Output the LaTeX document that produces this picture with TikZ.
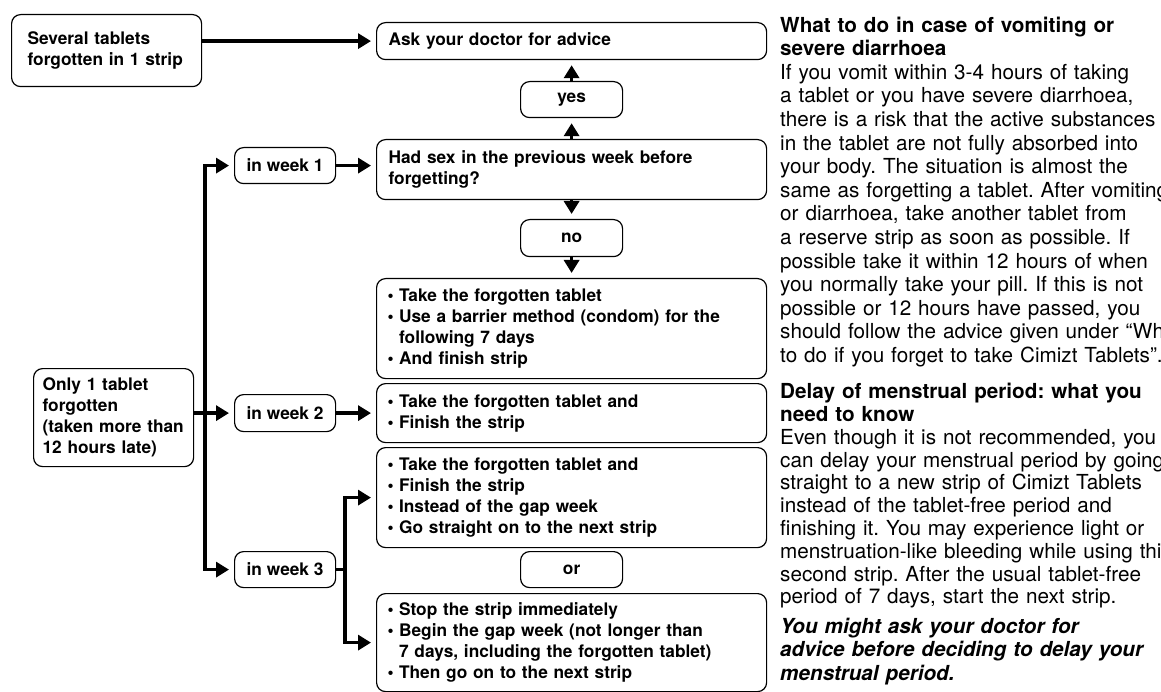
\documentclass[tikz,border=0pt]{standalone}
\usepackage{fontspec}
\setmainfont{TeX Gyre Heros}
\usetikzlibrary{arrows.meta}
\frenchspacing

\newcommand\boxfont{\fontsize{17.3}{21}\selectfont\bfseries}
\newcommand\sidefont{\fontsize{20.7}{23.6}\selectfont}
\newcommand\sidefontb{\fontsize{20.7}{22.8}\selectfont}
\newcommand\itm{\makebox[11.5pt][l]{•}}
\newcommand\itmgap{\hspace*{11.5pt}}

\begin{document}
\begin{tikzpicture}[x=1pt,y=-1pt,
>={Triangle[length=13pt,width=15pt]},
panel/.style={draw,rounded corners=9pt,line width=1.2pt,anchor=north west,
  align=left,font=\boxfont,inner xsep=12pt,inner ysep=0pt,text width=366pt},
tag/.style={draw,rounded corners=9pt,line width=1.2pt,anchor=north west,
  font=\boxfont,minimum width=101pt,minimum height=36pt,inner sep=0pt},
side/.style={anchor=north west,inner sep=0pt,text width=440pt,align=left},
flow/.style={line width=3.5pt,shorten >=5pt}]

\useasboundingbox (0,0) rectangle (1161,692);

% left column
\node[panel,inner xsep=16pt,text width=158pt,minimum height=72pt] (several) at (11,14)
  {Several tablets\\forgotten in 1 strip};
\node[panel,inner xsep=9pt,text width=142pt,minimum height=98pt] (only) at (33,368)
  {Only 1 tablet\\forgotten\\(taken more than\\12 hours late)};
\node[tag] (w1) at (234,147) {in week 1};
\node[tag,minimum height=37pt] (w2) at (234,394) {in week 2};
\node[tag] (w3) at (234,551) {in week 3};

% middle column
\node[panel,minimum height=37pt] (ask) at (376,22) {Ask your doctor for advice};
\node[tag,minimum width=102pt] (yes) at (520,81) {yes};
\node[panel,minimum height=60pt] (sex) at (376,139)
  {Had sex in the previous week before\\forgetting?};
\node[tag,minimum width=102pt,minimum height=37pt] (no) at (520,219) {no};
\node[panel,inner xsep=11pt,text width=368pt,minimum height=100pt] (take) at (376,278)
  {\itm Take the forgotten tablet\\
   \itm Use a barrier method (condom) for the\\
   \itmgap following 7 days\\
   \itm And finish strip};
\node[panel,inner xsep=11pt,text width=368pt,minimum height=59pt] (finish) at (376,383)
  {\itm Take the forgotten tablet and\\
   \itm Finish the strip};
\node[panel,inner xsep=11pt,text width=368pt,minimum height=100pt] (skip) at (376,447)
  {\itm Take the forgotten tablet and\\
   \itm Finish the strip\\
   \itm Instead of the gap week\\
   \itm Go straight on to the next strip};
\node[tag,minimum width=102pt] (or) at (520,551) {or};
\node[panel,inner xsep=11pt,text width=368pt,minimum height=98pt] (stop) at (376,593)
  {\itm Stop the strip immediately\\
   \itm Begin the gap week (not longer than\\
   \itmgap 7 days, including the forgotten tablet)\\
   \itm Then go on to the next strip};

% right column
\node[side,font=\sidefont] (vomit) at (780,16.5)
  {{\bfseries What to do in case of vomiting or\\severe diarrhoea}\\
   If you vomit within 3-4 hours of taking\\
   a tablet or you have severe diarrhoea,\\
   there is a risk that the active substances\\
   in the tablet are not fully absorbed into\\
   your body. The situation is almost the\\
   same as forgetting a tablet. After vomiting\\
   or diarrhoea, take another tablet from\\
   a reserve strip as soon as possible. If\\
   possible take it within 12 hours of when\\
   you normally take your pill. If this is not\\
   possible or 12 hours have passed, you\\
   should follow the advice given under “What\\
   to do if you forget to take Cimizt Tablets”.};
\node[side,font=\sidefontb] (delay) at (780,383)
  {{\bfseries Delay of menstrual period: what you\\need to know}\\
   Even though it is not recommended, you\\
   can delay your menstrual period by going\\
   straight to a new strip of Cimizt Tablets\\
   instead of the tablet-free period and\\
   finishing it. You may experience light or\\
   menstruation-like bleeding while using this\\
   second strip. After the usual tablet-free\\
   period of 7 days, start the next strip.};
\node[side,font=\sidefont\bfseries\itshape] (askdoc) at (780,617.5)
  {You might ask your doctor for\\
   advice before deciding to delay your\\
   menstrual period.};

% connectors
\coordinate (trunk) at (205,0);
\coordinate (fork) at (345,0);
\draw[flow,->] (several.east |- ask.west) -- (ask.west);
\draw[flow,->] (only.east |- w2.west) -- (w2.west);
\draw[flow,<->,shorten <=5pt] (w1.west) -- (trunk |- w1.west) -- (trunk |- w3.west) -- (w3.west);
\draw[flow,->] (w1.east) -- (w1.east -| sex.west);
\draw[flow,->] (w2.east) -- (w2.east -| finish.west);
\draw[line width=3.5pt] (w3.east) -- (fork |- w3.east);
\draw[flow,<->,shorten <=5pt] (skip.west) -- (fork |- skip.west) -- (fork |- stop.west) -- (stop.west);
\draw[flow,->] (sex.north) -- (yes.south);
\draw[flow,->] (yes.north) -- (ask.south);
\draw[flow,->] (sex.south) -- (no.north);
\draw[flow,->] (no.south) -- (take.north);

\end{tikzpicture}
\end{document}
